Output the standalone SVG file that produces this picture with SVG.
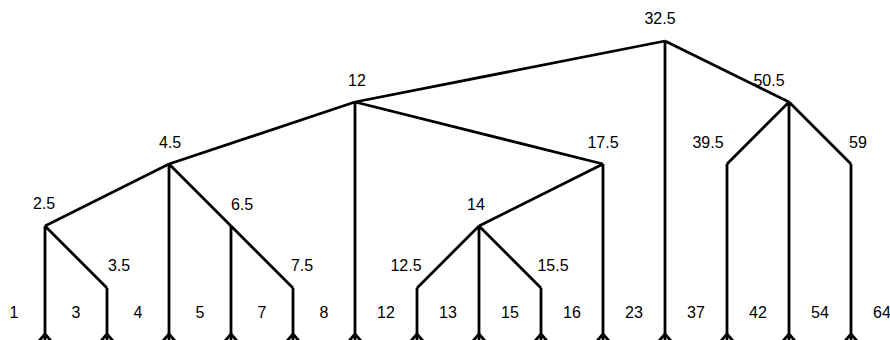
<svg xmlns="http://www.w3.org/2000/svg" width="890" height="340" viewBox="0 0 890 340">
<style>
.e{stroke:#000;stroke-width:2.8;fill:none;stroke-linejoin:miter}
text{font-family:"Liberation Sans",Arial,sans-serif;font-size:16px;fill:#000;text-anchor:middle}
</style>
<defs>
<path id="ah" d="M-6,341 L0,334 L6,341" class="e"/>
</defs>
<rect width="890" height="340" fill="#fff"/>
<g id="connectors">
<path class="e" d="M45,226 V340 M45,226 L107,288 M45,226 L169,164"/>
<path class="e" d="M107,288 V340"/>
<path class="e" d="M169,164 V340 M169,164 L231,226 M169,164 L355,102"/>
<path class="e" d="M231,226 V340 M231,226 L293,288"/>
<path class="e" d="M293,288 V340"/>
<path class="e" d="M355,102 V340 M355,102 L603,164 M355,102 L665,41"/>
<path class="e" d="M603,164 V340 M603,164 L479,226"/>
<path class="e" d="M479,226 V340 M479,226 L417,288 M479,226 L541,288"/>
<path class="e" d="M417,288 V340 M541,288 V340"/>
<path class="e" d="M665,41 V340 M665,41 L789,102"/>
<path class="e" d="M789,102 V340 M789,102 L727,164 M789,102 L851,164"/>
<path class="e" d="M727,164 V340 M851,164 V340"/>
<use href="#ah" x="45"/><use href="#ah" x="107"/><use href="#ah" x="169"/><use href="#ah" x="231"/><use href="#ah" x="293"/><use href="#ah" x="355"/><use href="#ah" x="417"/><use href="#ah" x="479"/><use href="#ah" x="541"/><use href="#ah" x="603"/><use href="#ah" x="665"/><use href="#ah" x="727"/><use href="#ah" x="789"/><use href="#ah" x="851"/>
</g>
<g id="n2_5"><text x="44" y="209">2.5</text></g>
<g id="n3_5"><text x="119" y="271">3.5</text></g>
<g id="n4_5"><text x="170" y="148">4.5</text></g>
<g id="n6_5"><text x="242" y="210">6.5</text></g>
<g id="n7_5"><text x="302" y="271">7.5</text></g>
<g id="n12i"><text x="357" y="86">12</text></g>
<g id="n17_5"><text x="603" y="148">17.5</text></g>
<g id="n14"><text x="476" y="210">14</text></g>
<g id="n12_5"><text x="406" y="271">12.5</text></g>
<g id="n15_5"><text x="553" y="271">15.5</text></g>
<g id="n32_5"><text x="660" y="24">32.5</text></g>
<g id="n50_5"><text x="769" y="86">50.5</text></g>
<g id="n39_5"><text x="708" y="148">39.5</text></g>
<g id="n59"><text x="858" y="148">59</text></g>
<g id="leaves">
<text x="14" y="318">1</text>
<text x="76" y="318">3</text>
<text x="138" y="318">4</text>
<text x="200" y="318">5</text>
<text x="262" y="318">7</text>
<text x="324" y="318">8</text>
<text x="386" y="318">12</text>
<text x="448" y="318">13</text>
<text x="510" y="318">15</text>
<text x="572" y="318">16</text>
<text x="634" y="318">23</text>
<text x="696" y="318">37</text>
<text x="758" y="318">42</text>
<text x="820" y="318">54</text>
<text x="882" y="318">64</text>
</g>
</svg>
